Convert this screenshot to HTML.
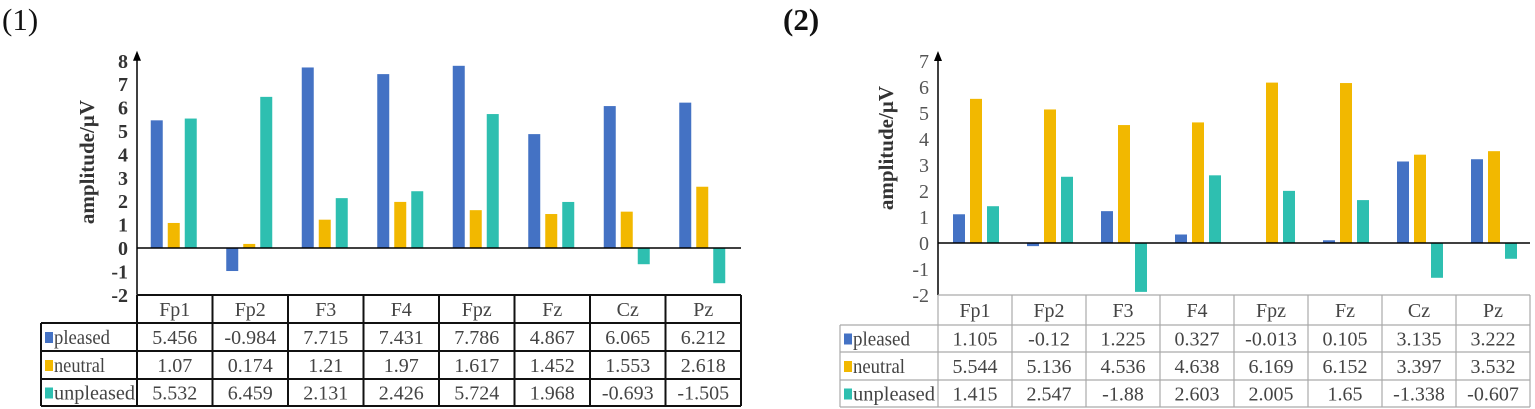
<!DOCTYPE html>
<html><head><meta charset="utf-8">
<style>
html,body{margin:0;padding:0;background:#fff;}
svg{display:block;}
text{font-family:"Liberation Serif",serif;}
</style></head>
<body>
<svg id="svg" width="1535" height="409" viewBox="0 0 1535 409" xmlns="http://www.w3.org/2000/svg" font-family="Liberation Serif, serif">
<text x="2" y="30" font-size="31" fill="#111">(1)</text>
<text x="783" y="30" font-size="31" font-weight="bold" fill="#111">(2)</text>
<g id="c1"></g>
<g id="c2"></g>
</svg>
<script>
const categories = ["Fp1","Fp2","F3","F4","Fpz","Fz","Cz","Pz"];
const seriesNames = ["pleased","neutral","unpleased"];
const chart1Pleased = [5.456,-0.984,7.715,7.431,7.786,4.867,6.065,6.212];
const chart1Neutral = [1.07,0.174,1.21,1.97,1.617,1.452,1.553,2.618];
const chart1Unpleased = [5.532,6.459,2.131,2.426,5.724,1.968,-0.693,-1.505];
const chart2Pleased = [1.105,-0.12,1.225,0.327,-0.013,0.105,3.135,3.222];
const chart2Neutral = [5.544,5.136,4.536,4.638,6.169,6.152,3.397,3.532];
const chart2Unpleased = [1.415,2.547,-1.88,2.603,2.005,1.65,-1.338,-0.607];
const chart1Labels = [["5.456","-0.984","7.715","7.431","7.786","4.867","6.065","6.212"],["1.07","0.174","1.21","1.97","1.617","1.452","1.553","2.618"],["5.532","6.459","2.131","2.426","5.724","1.968","-0.693","-1.505"]];
const chart2Labels = [["1.105","-0.12","1.225","0.327","-0.013","0.105","3.135","3.222"],["5.544","5.136","4.536","4.638","6.169","6.152","3.397","3.532"],["1.415","2.547","-1.88","2.603","2.005","1.65","-1.338","-0.607"]];
const chart1Ticks = [-2,-1,0,1,2,3,4,5,6,7,8];
const chart2Ticks = [-2,-1,0,1,2,3,4,5,6,7];
const colors = ["#4472c4","#f2b800","#2ebfb0"];
const NS="http://www.w3.org/2000/svg";
const FF="Liberation Serif, serif";
function mk(parent,tag,attrs){const e=document.createElementNS(NS,tag);for(const k in attrs)e.setAttribute(k,attrs[k]);if(tag==='text')e.setAttribute('font-family',FF);parent.appendChild(e);return e;}

function draw(gid,cfg,series,labels,ticks){
  const g=document.getElementById(gid);
  const yMin=ticks[0],yMax=ticks[ticks.length-1];
  const y=v=>cfg.zeroY-(v)*cfg.unit;
  const colW=cfg.colW, ax=cfg.axisX;
  const xc=i=>ax+colW*i+colW/2;
  const axis=mk(g,'line',{x1:ax,y1:y(yMin),x2:ax,y2:y(yMax)-6,stroke:'#000','stroke-width':1.5});
  
  
  const arr=mk(g,'polygon',{points:`${ax-4},${y(yMax)} ${ax+4},${y(yMax)} ${ax},${y(yMax)-10}`,fill:'#000'});
  
  
  ticks.forEach(t=>{
    const tx=mk(g,'text',{x:ax-9,y:y(t)+7,'text-anchor':'end','font-size':20,'font-weight':cfg.bold?'bold':'normal',fill:cfg.tickColor});
    tx.textContent=t;
    
    
  });
  const tt=mk(g,'text',{x:0,y:0,transform:`translate(${cfg.titleX},${cfg.titleY}) rotate(-90)`,'text-anchor':'middle','font-size':21,'font-weight':'bold',fill:'#333'});
  tt.textContent='amplitude/µV';
  
  
  const offs=[-17,0,17];
  series.forEach((s,si)=>{
    s.forEach((v,i)=>{
      const x0=xc(i)+offs[si]+cfg.shift-6;
      const r=mk(g,'rect',{x:x0,y:Math.min(y(v),y(0)),width:12,height:Math.abs(y(v)-y(0)),fill:colors[si]});
      
      
    });
  });
  const zl=mk(g,'line',{x1:ax,y1:y(0),x2:ax+colW*8,y2:y(0),stroke:'#000','stroke-width':1.5});
  
  
  const tb=mk(g,'g',{});
  
  
  const rows=cfg.rows;
  const lc=cfg.lineColor, lw=cfg.lineW;
  const right=ax+colW*8;
  mk(tb,'line',{x1:ax,y1:rows[0],x2:right,y2:rows[0],stroke:lc,'stroke-width':lw});
  for(let r=1;r<rows.length;r++) mk(tb,'line',{x1:cfg.tableLeft,y1:rows[r],x2:right,y2:rows[r],stroke:lc,'stroke-width':lw});
  mk(tb,'line',{x1:cfg.tableLeft,y1:rows[1],x2:cfg.tableLeft,y2:rows[4],stroke:lc,'stroke-width':lw});
  for(let c=0;c<=8;c++) mk(tb,'line',{x1:ax+colW*c,y1:rows[0],x2:ax+colW*c,y2:rows[4],stroke:lc,'stroke-width':lw});
  categories.forEach((c,i)=>{
    const t=mk(tb,'text',{x:xc(i),y:(rows[0]+rows[1])/2+7,'text-anchor':'middle','font-size':20,fill:'#444'});
    t.textContent=c;
    
    
  });
  seriesNames.forEach((n,si)=>{
    const cy=(rows[si+1]+rows[si+2])/2;
    const sw=mk(tb,'rect',{x:cfg.tableLeft+4,y:cy-5,width:8,height:11,fill:colors[si]});
    
    
    const t=mk(tb,'text',{x:cfg.tableLeft+13,y:cy+7,'font-size':20,fill:'#444',textLength:cfg.nameLen[si],lengthAdjust:'spacingAndGlyphs'});
    t.textContent=n;
    
    
    labels[si].forEach((lab,i)=>{
      const v=mk(tb,'text',{x:xc(i),y:cy+7,'text-anchor':'middle','font-size':20,fill:'#444'});
      v.textContent=lab;
      
      
    });
  });
}
draw('c1',{axisX:137,colW:75.5,zeroY:248,unit:23.4,bold:true,tickColor:'#333',titleX:94,titleY:162,shift:-1,rows:[295,323,351,379,406],tableLeft:41,lineColor:'#111',lineW:2,nameLen:[56,51,81]},
  [chart1Pleased,chart1Neutral,chart1Unpleased],chart1Labels,chart1Ticks);
draw('c2',{axisX:938,colW:74,zeroY:243,unit:26,bold:false,tickColor:'#555',titleX:893,titleY:148,shift:1,rows:[295,325,352,380,407],tableLeft:840,lineColor:'#aaa',lineW:1.2,nameLen:[57,52,82]},
  [chart2Pleased,chart2Neutral,chart2Unpleased],chart2Labels,chart2Ticks);
</script>
</body></html>
